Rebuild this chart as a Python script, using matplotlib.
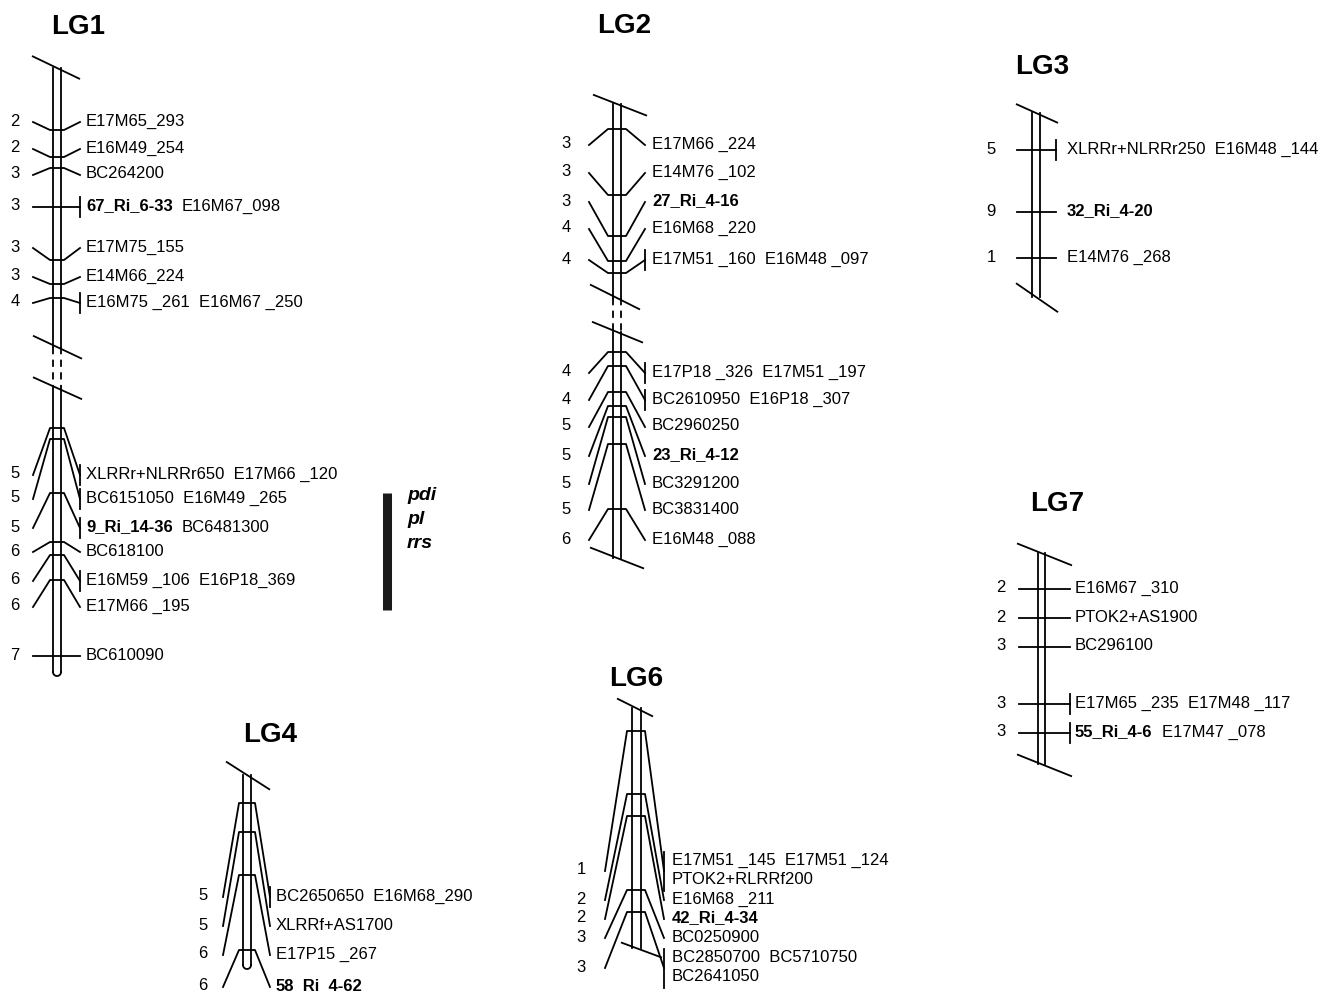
import numpy as np
import matplotlib
matplotlib.use('Agg')
import matplotlib.pyplot as plt

plt.rcParams['font.family'] = ['Liberation Sans', 'DejaVu Sans']

# ---- LG1 ----
lg1_nums = ['2', '2', '3', '3', '3', '3', '4', '5', '5', '5', '6', '6', '6', '7']
lg1_bold = ['', '', '', '67_Ri_6-33', '', '', '', '', '', '9_Ri_14-36', '', '', '', '']
lg1_labels = ['E17M65_293', 'E16M49_254', 'BC264200', 'E16M67_098', 'E17M75_155',
              'E14M66_224', 'E16M75 _261  E16M67 _250',
              'XLRRr+NLRRr650  E17M66 _120', 'BC6151050  E16M49 _265', 'BC6481300',
              'BC618100', 'E16M59 _106  E16P18_369', 'E17M66 _195', 'BC610090']
lg1_label_y = [122, 149, 175, 207, 248, 277, 303, 475, 499, 528, 552, 581, 607, 656]
lg1_attach_y = [130, 157, 168, 207, 260, 284, 298, 428, 439, 493, 542, 555, 580, 656]
lg1_multi = [0, 0, 0, 1, 0, 0, 1, 1, 1, 1, 0, 1, 0, 0]

# ---- LG2 ----
lg2_nums = ['3', '3', '3', '4', '4', '4', '4', '5', '5', '5', '5', '6']
lg2_bold = ['', '', '27_Ri_4-16', '', '', '', '', '', '23_Ri_4-12', '', '', '']
lg2_labels = ['E17M66 _224', 'E14M76 _102', '', 'E16M68 _220', 'E17M51 _160  E16M48 _097',
              'E17P18 _326  E17M51 _197', 'BC2610950  E16P18 _307', 'BC2960250', '',
              'BC3291200', 'BC3831400', 'E16M48 _088']
lg2_label_y = [145, 173, 202, 229, 260, 373, 400, 427, 456, 484, 510, 540]
lg2_attach_y = [129, 195, 236, 261, 273, 352, 366, 392, 406, 417, 444, 509]
lg2_multi = [0, 0, 0, 0, 1, 1, 1, 0, 0, 0, 0, 0]

# ---- LG3 ----
lg3_nums = ['5', '9', '1']
lg3_bold = ['', '32_Ri_4-20', '']
lg3_labels = ['XLRRr+NLRRr250  E16M48 _144', '', 'E14M76 _268']
lg3_label_y = [150, 212, 258]
lg3_attach_y = [150, 212, 258]
lg3_multi = [1, 0, 0]

# ---- LG4 ----
lg4_nums = ['5', '5', '6', '6']
lg4_bold = ['', '', '', '58_Ri_4-62']
lg4_labels = ['BC2650650  E16M68_290', 'XLRRf+AS1700', 'E17P15 _267', '']
lg4_label_y = [897, 926, 955, 987]
lg4_attach_y = [803, 832, 875, 950]
lg4_multi = [1, 0, 0, 0]

# ---- LG6 ----
lg6_nums = ['1', '2', '2', '3', '3']
lg6_bold = ['', '', '42_Ri_4-34', '', '']
lg6_labels = ['E17M51 _145  E17M51 _124\nPTOK2+RLRRf200', 'E16M68 _211', '',
              'BC0250900', 'BC2850700  BC5710750\nBC2641050']
lg6_label_y = [871, 900, 919, 938, 968]
lg6_attach_y = [731, 794, 816, 890, 912]
lg6_multi = [1, 0, 0, 0, 1]

# ---- LG7 ----
lg7_nums = ['2', '2', '3', '3', '3']
lg7_bold = ['', '', '', '', '55_Ri_4-6']
lg7_labels = ['E16M67 _310', 'PTOK2+AS1900', 'BC296100', 'E17M65 _235  E17M48 _117', 'E17M47 _078']
lg7_label_y = [589, 618, 647, 704, 733]
lg7_attach_y = [589, 618, 647, 704, 733]
lg7_multi = [0, 0, 0, 1, 1]

FS = 12
TFS = 20
LW = 1.3

fig = plt.figure(figsize=(13.23, 9.92), dpi=100)
ax = fig.add_axes([0, 0, 1, 1])
ax.set_xlim(0, 1323)
ax.set_ylim(992, 0)
ax.axis('off')


def diag(cx, y, x0, x1, slope):
    ax.plot([cx + x0, cx + x1], [y + x0 * slope, y + x1 * slope], color='k', lw=LW,
            solid_capstyle='butt')


def chrom(cx, half, y0, y1, dashed=False):
    ls = (0, (4, 3)) if dashed else '-'
    for sx in (-half, half):
        ax.plot([cx + sx, cx + sx], [y0, y1], color='k', lw=LW, ls=ls)


def round_end(cx, half, y):
    t = np.linspace(0, np.pi, 30)
    ax.plot(cx + half * np.cos(t), y + half * np.sin(t), color='k', lw=LW)


def markers(cx, nums, bold, labels, ly, ay, multi, xl, xr, xnum, xtext, w=8):
    for n, b, lab, y, a, m in zip(nums, bold, labels, ly, ay, multi):
        if a == y:
            ax.plot([cx + xl, cx + xr], [y, y], color='k', lw=LW)
        else:
            ax.plot([cx + xl, cx - w, cx + w, cx + xr], [y, a, a, y], color='k', lw=LW)
        nl = lab.count('\n') + 1
        if m:
            h = 10 + 9.5 * (nl - 1)
            ax.plot([cx + xr, cx + xr], [y - h, y + h], color='k', lw=LW)
        ax.text(xnum, y - 1, n, ha='center', va='center', fontsize=FS)
        if b:
            t = ax.text(xtext, y - 1, b, ha='left', va='center', fontsize=FS, fontweight='bold')
            if lab:
                ax.annotate(lab, xy=(1, 0.5), xycoords=t, xytext=(6.5, 0),
                            textcoords='offset points', ha='left', va='center', fontsize=FS)
        else:
            ax.text(xtext, y - 1, lab, ha='left', va='center', fontsize=FS, linespacing=1.4)


# LG1
cx = 57
ax.text(78, 27, 'LG1', ha='center', va='center', fontsize=TFS, fontweight='bold')
diag(cx, 68, -25, 23, 0.48)
chrom(cx, 4, 68, 347)
chrom(cx, 4, 347, 387, dashed=True)
chrom(cx, 4, 387, 672)
round_end(cx, 4, 672)
diag(cx, 347, -24, 25, 0.47)
diag(cx, 388, -24, 25, 0.45)
markers(cx, lg1_nums, lg1_bold, lg1_labels, lg1_label_y, lg1_attach_y, lg1_multi,
        -24, 23, 15, 86, w=7)

# LG2
cx = 617
ax.text(624, 26, 'LG2', ha='center', va='center', fontsize=TFS, fontweight='bold')
diag(cx, 104, -24, 30, 0.39)
chrom(cx, 4, 104, 298)
chrom(cx, 4, 298, 332, dashed=True)
chrom(cx, 4, 332, 558)
diag(cx, 298, -27, 23, 0.5)
diag(cx, 332, -25, 26, 0.41)
diag(cx, 558, -27, 27, 0.39)
markers(cx, lg2_nums, lg2_bold, lg2_labels, lg2_label_y, lg2_attach_y, lg2_multi,
        -28, 28, 566, 652, w=9)

# LG3
cx = 1036
ax.text(1042, 67, 'LG3', ha='center', va='center', fontsize=TFS, fontweight='bold')
diag(cx, 113, -20, 22, 0.45)
chrom(cx, 4, 113, 297)
diag(cx, 297, -20, 22, 0.69)
markers(cx, lg3_nums, lg3_bold, lg3_labels, lg3_label_y, lg3_attach_y, lg3_multi,
        -19, 20, 991, 1067)

# LG7
cx = 1041
ax.text(1057, 504, 'LG7', ha='center', va='center', fontsize=TFS, fontweight='bold')
diag(cx, 553, -24, 31, 0.4)
chrom(cx, 3.5, 553, 764)
diag(cx, 764, -24, 31, 0.4)
markers(cx, lg7_nums, lg7_bold, lg7_labels, lg7_label_y, lg7_attach_y, lg7_multi,
        -22, 29, 1001, 1075)

# LG4
cx = 247
ax.text(270, 735, 'LG4', ha='center', va='center', fontsize=TFS, fontweight='bold')
diag(cx, 775, -21, 23, 0.64)
chrom(cx, 4, 775, 965)
round_end(cx, 4, 965)
markers(cx, lg4_nums, lg4_bold, lg4_labels, lg4_label_y, lg4_attach_y, lg4_multi,
        -24, 23, 203, 276)

# LG6
cx = 636
ax.text(636, 679, 'LG6', ha='center', va='center', fontsize=TFS, fontweight='bold')
diag(cx, 708, -19, 17, 0.5)
chrom(cx, 4.5, 708, 948)
diag(cx, 948, -15, 26, 0.37)
markers(cx, lg6_nums, lg6_bold, lg6_labels, lg6_label_y, lg6_attach_y, lg6_multi,
        -31, 28, 581, 672, w=9)

# resistance block
ax.plot([387, 387], [493, 610], color='#1a1a1a', lw=6.5, solid_capstyle='butt')
for txt, y in zip(['pdi', 'pl', 'rrs'], [495, 519, 543]):
    ax.text(407, y, txt, ha='left', va='center', fontsize=14, fontweight='bold',
            fontstyle='italic')

fig.savefig('out.png', dpi=100)
